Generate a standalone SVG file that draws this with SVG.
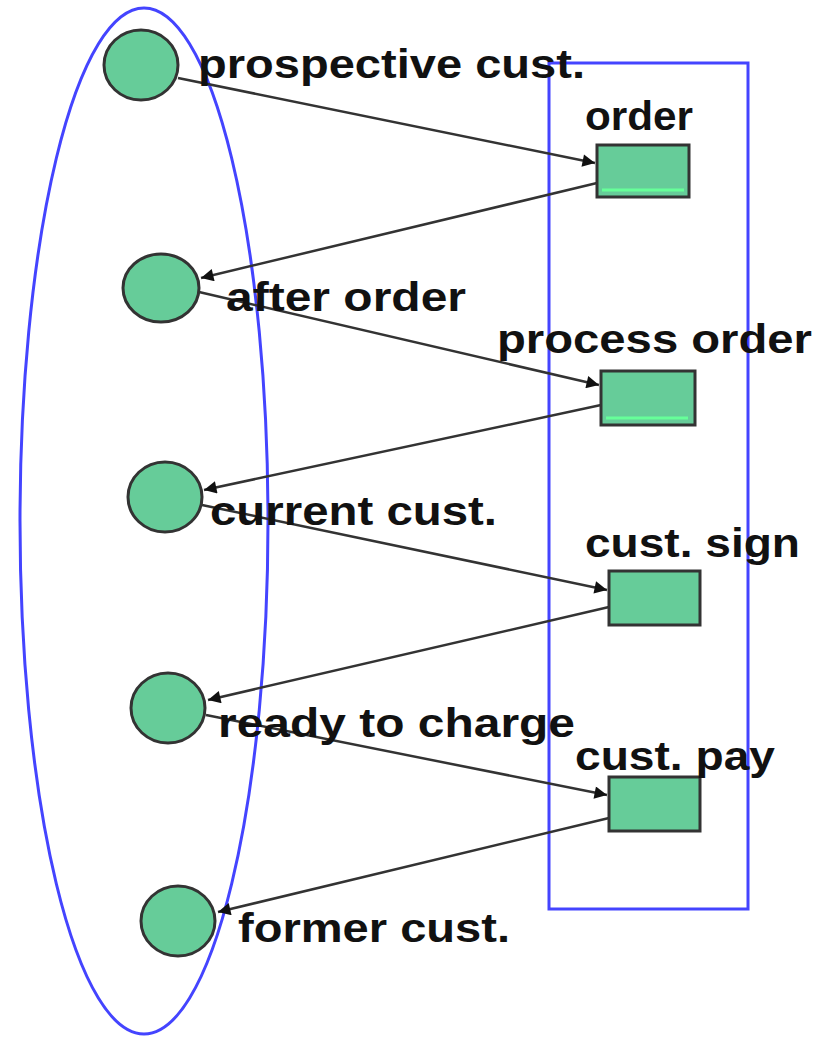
<svg xmlns="http://www.w3.org/2000/svg" width="822" height="1040" viewBox="0 0 822 1040">
<style>
.st{fill:#66cc99;stroke:#333;stroke-width:3}
.ac{fill:#66cc99;stroke:#333;stroke-width:3}
.hl{stroke:#66ff99;stroke-width:3}
.lb{font-family:"Liberation Sans",Arial,sans-serif;font-size:40px;font-weight:bold;fill:#111}
.cn{stroke:#333;stroke-width:2.5;fill:none;marker-end:url(#ah)}
.bl{fill:none;stroke:#4444ff;stroke-width:3}
</style>
<defs>
<marker id="ah" viewBox="0 0 10 10" refX="10" refY="5" markerWidth="7" markerHeight="5" markerUnits="strokeWidth" orient="auto">
<path d="M0,0 L10,5 L0,10 z" fill="#111"/>
</marker>
</defs>
<rect class="bl" x="549" y="63" width="199" height="846"/>
<ellipse class="bl" cx="144" cy="521" rx="124" ry="513"/>
<g id="connectors">
<line class="cn" x1="178" y1="78" x2="595" y2="163"/>
<line class="cn" x1="597" y1="183" x2="201" y2="278"/>
<line class="cn" x1="199" y1="292" x2="599" y2="385"/>
<line class="cn" x1="601" y1="405" x2="204" y2="490"/>
<line class="cn" x1="202" y1="505" x2="607" y2="590"/>
<line class="cn" x1="609" y1="607" x2="208" y2="700"/>
<line class="cn" x1="206" y1="715" x2="607" y2="795"/>
<line class="cn" x1="609" y1="818" x2="218" y2="912"/>
</g>
<g id="prospective">
<ellipse class="st" cx="141" cy="65" rx="37" ry="35"/>
<text class="lb" x="198" y="78" textLength="387" lengthAdjust="spacingAndGlyphs">prospective cust.</text>
</g>
<g id="after-order">
<ellipse class="st" cx="161" cy="288" rx="38" ry="34"/>
<text class="lb" x="226" y="311" textLength="240" lengthAdjust="spacingAndGlyphs">after order</text>
</g>
<g id="current">
<ellipse class="st" cx="165" cy="497" rx="37" ry="35"/>
<text class="lb" x="210" y="525" textLength="287" lengthAdjust="spacingAndGlyphs">current cust.</text>
</g>
<g id="ready">
<ellipse class="st" cx="168" cy="708" rx="37" ry="35"/>
<text class="lb" x="218" y="737" textLength="357" lengthAdjust="spacingAndGlyphs">ready to charge</text>
</g>
<g id="former">
<ellipse class="st" cx="178" cy="921" rx="37" ry="35"/>
<text class="lb" x="238" y="942" textLength="272" lengthAdjust="spacingAndGlyphs">former cust.</text>
</g>
<g id="order">
<rect class="ac" x="597" y="145" width="92" height="52"/>
<line class="hl" x1="602" y1="190" x2="684" y2="190"/>
<text class="lb" x="585" y="130" textLength="108" lengthAdjust="spacingAndGlyphs">order</text>
</g>
<g id="process-order">
<rect class="ac" x="601" y="371" width="94" height="54"/>
<line class="hl" x1="606" y1="418" x2="688" y2="418"/>
<text class="lb" x="497" y="353" textLength="315" lengthAdjust="spacingAndGlyphs">process order</text>
</g>
<g id="cust-sign">
<rect class="ac" x="609" y="571" width="91" height="54"/>
<text class="lb" x="585" y="557" textLength="215" lengthAdjust="spacingAndGlyphs">cust. sign</text>
</g>
<g id="cust-pay">
<rect class="ac" x="609" y="777" width="91" height="54"/>
<text class="lb" x="575" y="770" textLength="200" lengthAdjust="spacingAndGlyphs">cust. pay</text>
</g>
</svg>
